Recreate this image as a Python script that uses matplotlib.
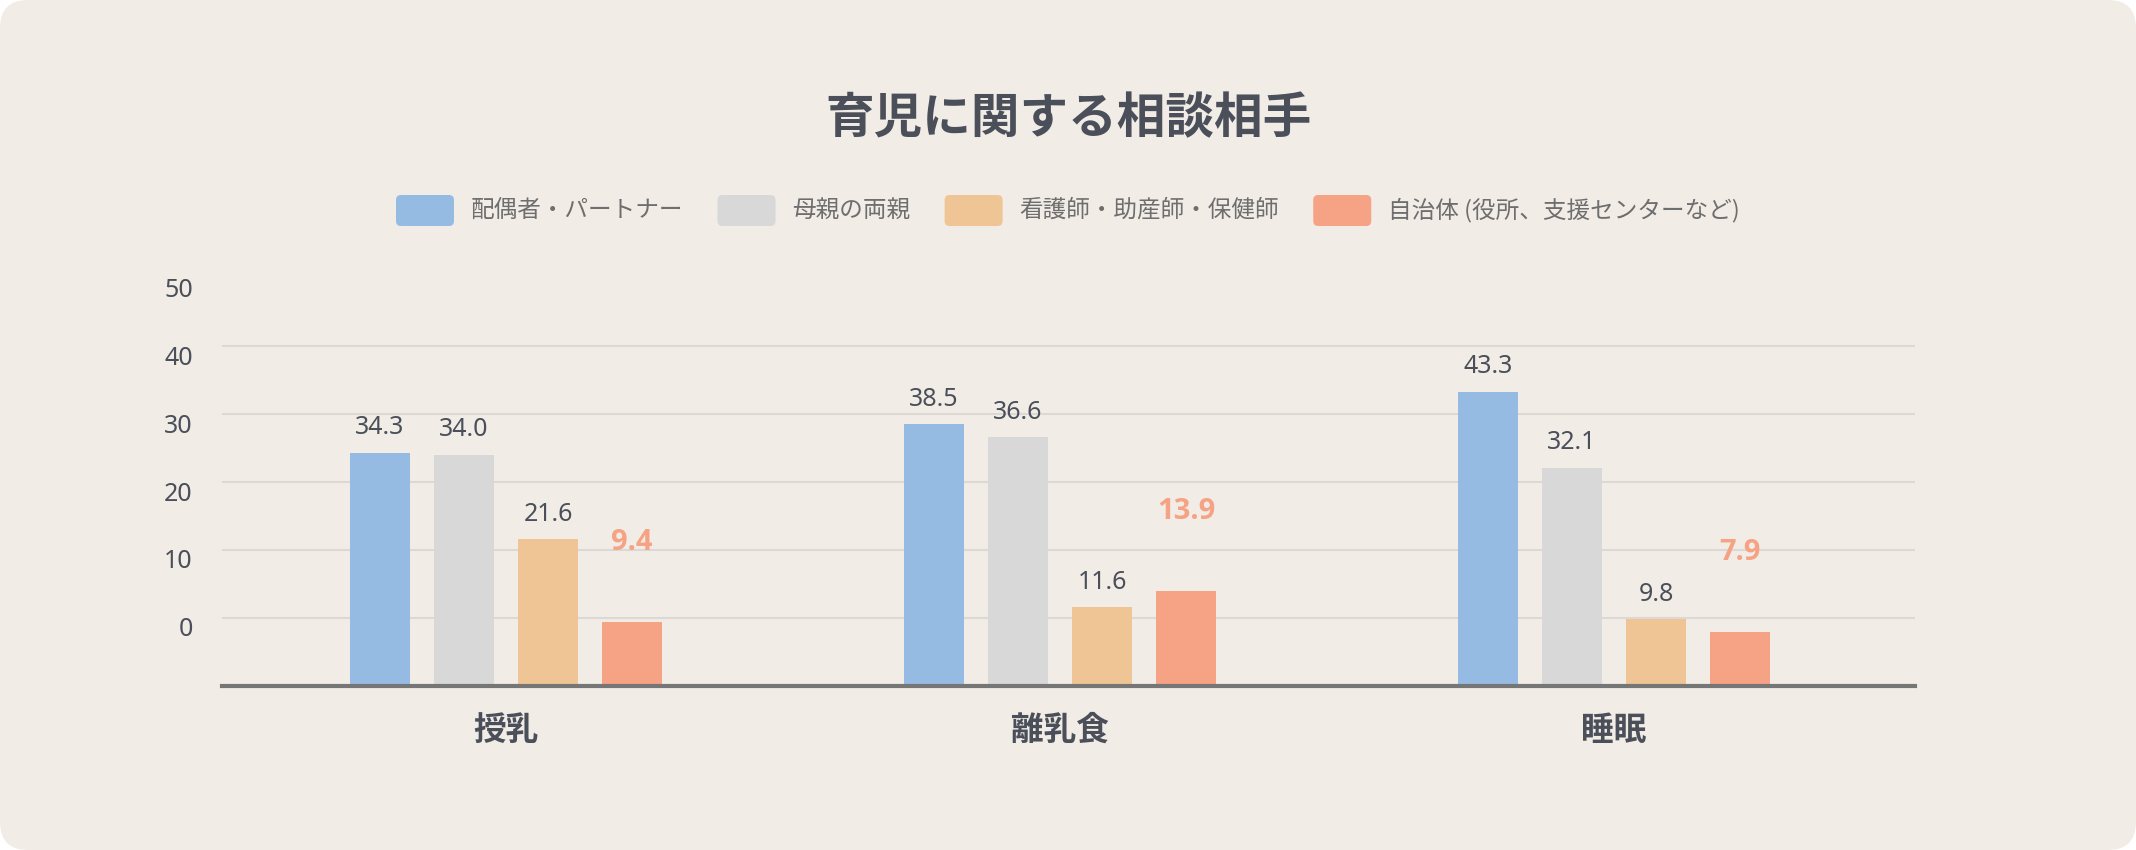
import numpy as np
import matplotlib.pyplot as plt
from matplotlib.patches import FancyBboxPatch
from matplotlib.transforms import IdentityTransform, ScaledTranslation

plt.rcParams['font.family'] = ['Noto Sans CJK JP', 'DejaVu Sans']

# data
categories = ['授乳', '離乳食', '睡眠']
series_names = ['配偶者・パートナー', '母親の両親', '看護師・助産師・保健師', '自治体 (役所、支援センターなど)']
partner = [34.3, 38.5, 43.3]
parents = [34.0, 36.6, 32.1]
nurse = [21.6, 11.6, 9.8]
city = [9.4, 13.9, 7.9]
ytick_pos = [10, 20, 30, 40, 50, 60]
ytick_labels = ['0', '10', '20', '30', '40', '50']

colors = ['#96bbe2', '#d8d8d8', '#f0c595', '#f6a285']
dark = '#4a4f59'
num_font = ['Noto Sans', 'DejaVu Sans']
bold_font = ['Open Sans', 'DejaVu Sans']
W, H = 2136, 850

fig = plt.figure(figsize=(W / 100, H / 100), dpi=100, facecolor='white')
card = FancyBboxPatch((0, 0), W, H, boxstyle='round,pad=0,rounding_size=28',
                      transform=IdentityTransform(), facecolor='#f1ece6', edgecolor='none',
                      zorder=-10)
fig.patches.append(card)

# axes placed in pixels: baseline at y=686, 6.8 px per unit
ax = fig.add_axes([222 / W, (H - 686) / H, (1915 - 222) / W, 408 / H])
ax.set_facecolor('none')
for s in ax.spines.values():
    s.set_visible(False)

unit = 554.0
x = np.arange(len(categories))
ax.set_xlim(-(506 - 222) / unit, (1915 - 506) / unit)
ax.set_ylim(0, 60)

step = 84 / unit
width = 60 / unit
all_series = [partner, parents, nurse, city]
for i, vals in enumerate(all_series):
    xs = x + (i - 1.5) * step
    ax.bar(xs, vals, width=width, color=colors[i], zorder=2)
    for xi, v in zip(xs, vals):
        if i == 3:
            ax.annotate(f'{v:.1f}', (xi, v), xytext=(0, 57.6), textcoords='offset points',
                        ha='center', va='center', fontsize=21, fontweight='bold',
                        color=colors[3], family=bold_font)
        else:
            ax.annotate(f'{v:.1f}', (xi, v), xytext=(0, 18), textcoords='offset points',
                        ha='center', va='center', fontsize=18, color=dark, family=num_font)

xl = ax.get_xlim()
ax.hlines([10, 20, 30, 40, 50], xl[0], xl[1], color='#dcd8d5', lw=1.5, zorder=1)
ax.axhline(0, color='#767676', lw=3, zorder=3, clip_on=False)

ax.set_yticks(ytick_pos, ytick_labels)
ax.tick_params(axis='y', length=0, pad=21, labelsize=18, labelcolor=dark)
offset = ScaledTranslation(0, -9 / 100, fig.dpi_scale_trans)
for lab in ax.get_yticklabels():
    lab.set_transform(lab.get_transform() + offset)
    lab.set_family(num_font)

ax.set_xticks(x, categories)
ax.tick_params(axis='x', length=0, pad=20, labelsize=23.5, labelcolor=dark)
for lab in ax.get_xticklabels():
    lab.set_fontweight('bold')

# title
fig.text(0.5, 1 - 119 / H, '育児に関する相談相手', ha='center', va='center',
         fontsize=35, color=dark, fontweight='bold')

# legend drawn by hand
fig.canvas.draw()
r = fig.canvas.get_renderer()
texts = []
widths = []
for name in series_names:
    t = fig.text(0, 1 - 210.5 / H, name, fontsize=17, color='#6e6e6e', va='center', ha='left')
    texts.append(t)
    widths.append(t.get_window_extent(r).width)
pw, ph, gap, sep = 58, 31, 17, 34
total = sum(pw + gap + w for w in widths) + sep * (len(widths) - 1)
cx = W / 2 - total / 2
yc = H - 210.5
for i, t in enumerate(texts):
    p = FancyBboxPatch((cx, yc - ph / 2), pw, ph, boxstyle='round,pad=0,rounding_size=5',
                       transform=IdentityTransform(), facecolor=colors[i], edgecolor='none')
    fig.patches.append(p)
    t.set_x((cx + pw + gap) / W)
    cx += pw + gap + widths[i] + sep

fig.savefig('out.png', dpi=100, facecolor='white')
